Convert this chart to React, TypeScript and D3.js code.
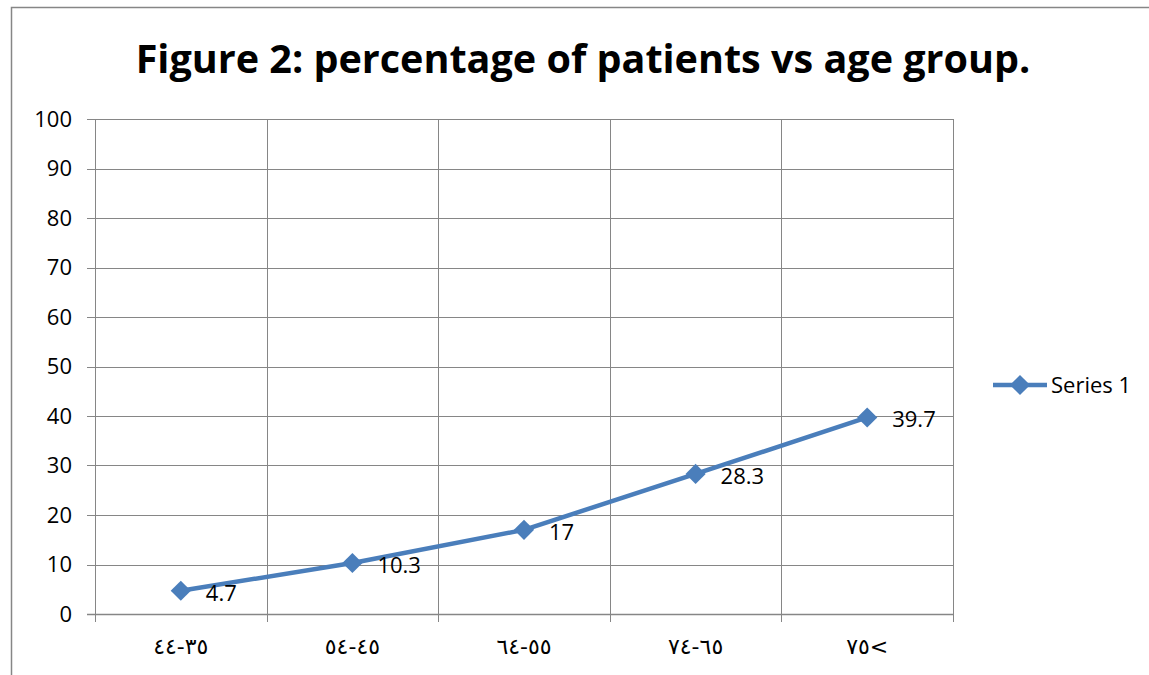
import { useEffect, useRef } from "react";
import * as d3 from "d3";

const categories = ["٣٥-٤٤", "٤٥-٥٤", "٥٥-٦٤", "٦٥-٧٤", "٧٥<"];
const values = [4.7, 10.3, 17, 28.3, 39.7];
const yTicks = [0, 10, 20, 30, 40, 50, 60, 70, 80, 90, 100];
const seriesName = "Series 1";
const title = "Figure 2: percentage of patients vs age group.";

const width = 1149;
const height = 675;
const font = "'Open Sans', 'DejaVu Sans', sans-serif";

const App = () => {
  const ref = useRef<SVGSVGElement | null>(null);

  useEffect(() => {
    const svg = d3.select(ref.current);
    svg.selectAll("*").remove();

    const blue = "#4A7EBB";
    const grey = "#868686";
    const marginLeft = 95;
    const marginRight = 953;
    const top = 119;
    const bottom = 614;

    const x = d3.scaleBand<string>().domain(categories).range([marginLeft, marginRight]);
    const y = d3.scaleLinear().domain([0, 100]).range([bottom, top]);

    // outer frame
    svg.append("rect")
      .attr("x", 11.5).attr("y", 7.5)
      .attr("width", 1160).attr("height", 700)
      .attr("fill", "white")
      .attr("stroke", grey).attr("stroke-width", 1.5);

    const t = svg.append("text")
      .attr("x", 583).attr("y", 73)
      .attr("text-anchor", "middle")
      .attr("font-family", font)
      .attr("font-weight", "bold")
      .attr("font-size", 38)
      .text(title);
    // fit title to the width it has in the original (~895px)
    const tl = (t.node() as SVGTextElement).getComputedTextLength();
    if (tl > 0) t.attr("font-size", 38 * 895 / tl);

    // grid
    const grid = svg.append("g").attr("stroke", grey).attr("stroke-width", 1);
    grid.selectAll("line.h")
      .data(yTicks.filter(d => d > 0))
      .join("line")
      .attr("class", "h")
      .attr("x1", marginLeft - 8).attr("x2", marginRight)
      .attr("y1", d => Math.round(y(d)) + 0.5).attr("y2", d => Math.round(y(d)) + 0.5);

    const bounds = categories.map(c => x(c) as number).concat([marginRight]);
    grid.selectAll("line.v")
      .data(bounds)
      .join("line")
      .attr("class", "v")
      .attr("x1", d => Math.round(d) + 0.5).attr("x2", d => Math.round(d) + 0.5)
      .attr("y1", top).attr("y2", bottom + 8);

    // x axis line
    svg.append("line")
      .attr("x1", marginLeft - 8).attr("x2", marginRight)
      .attr("y1", Math.round(y(0)) + 0.5).attr("y2", Math.round(y(0)) + 0.5)
      .attr("stroke", grey).attr("stroke-width", 1.5);

    // y labels
    svg.append("g")
      .selectAll("text")
      .data(yTicks)
      .join("text")
      .attr("x", 72)
      .attr("y", d => y(d))
      .attr("dy", "0.36em")
      .attr("text-anchor", "end")
      .attr("font-family", font)
      .attr("font-size", 22)
      .text(d => d);

    // x labels
    svg.append("g")
      .selectAll("text")
      .data(categories)
      .join("text")
      .attr("x", d => (x(d) as number) + x.bandwidth() / 2)
      .attr("y", 654)
      .attr("text-anchor", "middle")
      .attr("font-family", "'DejaVu Sans', sans-serif")
      .attr("font-size", 22)
      .text(d => d);

    const cx = (i: number) => (x(categories[i]) as number) + x.bandwidth() / 2;

    const line = d3.line<number>()
      .x((d, i) => cx(i))
      .y(d => y(d));

    svg.append("path")
      .datum(values)
      .attr("d", line)
      .attr("fill", "none")
      .attr("stroke", blue)
      .attr("stroke-width", 4.5)
      .attr("stroke-linejoin", "round");

    const diamond = d3.symbol().type(d3.symbolDiamond2).size(260);

    svg.append("g")
      .selectAll("path")
      .data(values)
      .join("path")
      .attr("d", diamond)
      .attr("transform", (d, i) => `translate(${cx(i)},${y(d)})`)
      .attr("fill", blue);

    svg.append("g")
      .selectAll("text")
      .data(values)
      .join("text")
      .attr("x", (d, i) => cx(i) + 25)
      .attr("y", d => y(d) + 10)
      .attr("font-family", font)
      .attr("font-size", 22)
      .text(d => d);

    // legend
    const lg = svg.append("g");
    lg.append("line")
      .attr("x1", 993).attr("x2", 1047)
      .attr("y1", 385).attr("y2", 385)
      .attr("stroke", blue).attr("stroke-width", 4.5);
    lg.append("path")
      .attr("d", diamond)
      .attr("transform", "translate(1020,385)")
      .attr("fill", blue);
    lg.append("text")
      .attr("x", 1051).attr("y", 393)
      .attr("font-family", font)
      .attr("font-size", 22)
      .text(seriesName);
  }, []);

  return (
    <svg
      ref={ref}
      width={width}
      height={height}
      style={{ position: "absolute", left: 0, top: 0, display: "block" }}
    />
  );
};

export default App;
